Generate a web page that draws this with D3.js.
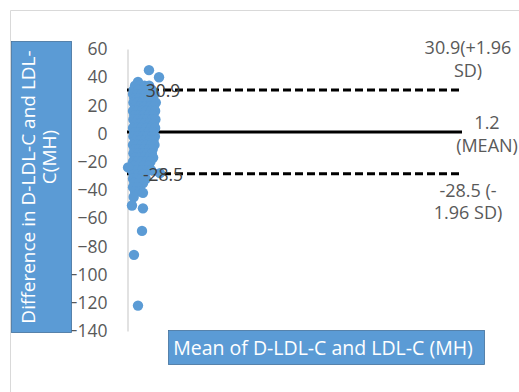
<!DOCTYPE html>
<html>
<head>
<meta charset="utf-8">
<script src="https://cdn.jsdelivr.net/npm/d3@7"></script>
<style>
  body { margin: 0; background: #fff; }
  svg { display: block; font-family: "Open Sans", sans-serif; }
</style>
</head>
<body>
<svg id="chart" width="519" height="392"></svg>
<script>
// mean of the two methods (x) and their difference (y)
const meanValues = [
  164, 239, 82,
  60, 95, 130, 165,
  50, 85, 120, 150, 185,
  45, 75, 110, 140, 175, 205,
  55, 90, 125, 160, 195,
  48, 80, 115, 150, 185, 215,
  60, 95, 130, 170, 200,
  45, 78, 112, 145, 180, 210,
  55, 90, 125, 160, 195,
  48, 82, 118, 150, 185, 212,
  60, 95, 130, 165, 200,
  45, 78, 110, 145, 180, 210,
  55, 90, 125, 160, 195,
  48, 82, 118, 150, 185, 208,
  60, 95, 130, 165, 198,
  45, 78, 112, 145, 180, 205,
  55, 90, 125, 160, 192,
  48, 82, 118, 150, 185,
  58, 95, 130, 165, 195,
  45, 78, 112, 145, 175,
  55, 90, 125, 160,
  40, 80, 115, 150, 180,
  8, 246,
  50, 85, 120,
  45, 75, 110, 140,
  55, 90, 120,
  45, 80,
  60, 95, 119,
  50,
  37, 119, 112, 52, 82
];
const diffValues = [
  45, 40, 36.6,
  34, 34, 34, 34,
  31, 31, 31, 31, 31,
  28, 28, 28, 28, 28, 28,
  25, 25, 25, 25, 25,
  22, 22, 22, 22, 22, 22,
  19, 19, 19, 19, 19,
  16, 16, 16, 16, 16, 16,
  13, 13, 13, 13, 13,
  10, 10, 10, 10, 10, 10,
  7, 7, 7, 7, 7,
  4, 4, 4, 4, 4, 4,
  1, 1, 1, 1, 1,
  -2, -2, -2, -2, -2, -2,
  -5, -5, -5, -5, -5,
  -8, -8, -8, -8, -8, -8,
  -11, -11, -11, -11, -11,
  -14, -14, -14, -14, -14,
  -17, -17, -17, -17, -17,
  -20, -20, -20, -20, -20,
  -23, -23, -23, -23,
  -26, -26, -26, -26, -26,
  -24, -28,
  -29, -29, -29,
  -32, -32, -32, -32,
  -35, -35, -35,
  -38, -38,
  -41, -41, -42,
  -45,
  -51, -53, -69, -86, -122
];

const yTicks = [60, 40, 20, 0, -20, -40, -60, -80, -100, -120, -140];
const lineStart = 0, lineEnd = 2500;
const limitValues = [30.9, 1.2, -28.5];
const limitDashed = [true, false, true];
const leftLabels = ["30.9", "", "-28.5"];
const rightLabels = [["30.9(+1.96", "SD)"], ["1.2", "(MEAN)"], ["-28.5 (-", "1.96 SD)"]];

const svg = d3.select("#chart");

const x = d3.scaleLinear().domain([0, 2500]).range([127, 462]);
const y = d3.scaleLinear().domain([-140, 60]).range([331, 49]);

// outer chart border (only top and left edges show)
svg.append("path")
  .attr("d", "M10.5,392V10.5H519")
  .attr("fill", "none")
  .attr("stroke", "#d9d9d9");

// y axis
const yAxis = svg.append("g")
  .attr("transform", "translate(127.5,0)")
  .call(d3.axisLeft(y).tickValues(yTicks).tickSize(0).tickSizeOuter(0).tickPadding(20));
yAxis.select(".domain").attr("stroke", "#d9d9d9").attr("stroke-width", 1.5);
yAxis.selectAll("text")
  .attr("fill", "#595959")
  .style("font-size", "17.5px")
  .style("font-family", "'Open Sans', sans-serif");

// limit lines
svg.append("g").selectAll("line")
  .data(limitValues)
  .join("line")
  .attr("x1", x(lineStart))
  .attr("x2", x(lineEnd))
  .attr("y1", d => y(d))
  .attr("y2", d => y(d))
  .attr("stroke", "#000")
  .attr("stroke-width", 3)
  .attr("stroke-dasharray", (d, i) => limitDashed[i] ? "8 4" : null);

// points
svg.append("g").selectAll("circle")
  .data(meanValues.map((m, i) => ({ m: m, d: diffValues[i] })))
  .join("circle")
  .attr("cx", d => x(d.m))
  .attr("cy", d => y(d.d))
  .attr("r", 5.2)
  .attr("fill", "#5b9bd5");

// labels at the left end of the lines
svg.append("g").selectAll("text")
  .data(limitValues)
  .join("text")
  .attr("x", x(lineStart) + 36)
  .attr("y", d => y(d) + 7)
  .attr("text-anchor", "middle")
  .attr("fill", "#404040")
  .style("font-size", "17.5px")
  .text((d, i) => leftLabels[i]);

// labels at the right end of the lines
const rightOffsets = [[-42, -19], [-9, 14], [17, 39]];
const rightDx = [6, 25, 6];
limitValues.forEach((v, i) => {
  rightLabels[i].forEach((t, j) => {
    svg.append("text")
      .attr("x", x(lineEnd) + rightDx[i])
      .attr("y", y(v) + rightOffsets[i][j] + 6)
      .attr("text-anchor", "middle")
      .attr("fill", "#595959")
      .style("font-size", "18px")
      .text(t);
  });
});

// y axis title box
svg.append("rect")
  .attr("x", 11.5).attr("y", 41.5).attr("width", 60).attr("height", 291)
  .attr("fill", "#5b9bd5").attr("stroke", "#41719c").attr("stroke-width", 0.8);
const yTitle = svg.append("g").attr("fill", "#fff").style("font-size", "19px");
yTitle.append("text")
  .attr("transform", "translate(35,187) rotate(-90)")
  .attr("text-anchor", "middle")
  .text("Difference in D-LDL-C and LDL-");
yTitle.append("text")
  .attr("transform", "translate(56,157) rotate(-90)")
  .attr("text-anchor", "middle")
  .text("C(MH)");

// x axis title box
svg.append("rect")
  .attr("x", 168.5).attr("y", 330.5).attr("width", 316).attr("height", 34)
  .attr("fill", "#5b9bd5").attr("stroke", "#41719c").attr("stroke-width", 0.8);
svg.append("text")
  .attr("x", 323).attr("y", 354.5)
  .attr("text-anchor", "middle")
  .attr("fill", "#fff")
  .style("font-size", "19.5px")
  .text("Mean of D-LDL-C and LDL-C (MH)");
</script>
</body>
</html>
